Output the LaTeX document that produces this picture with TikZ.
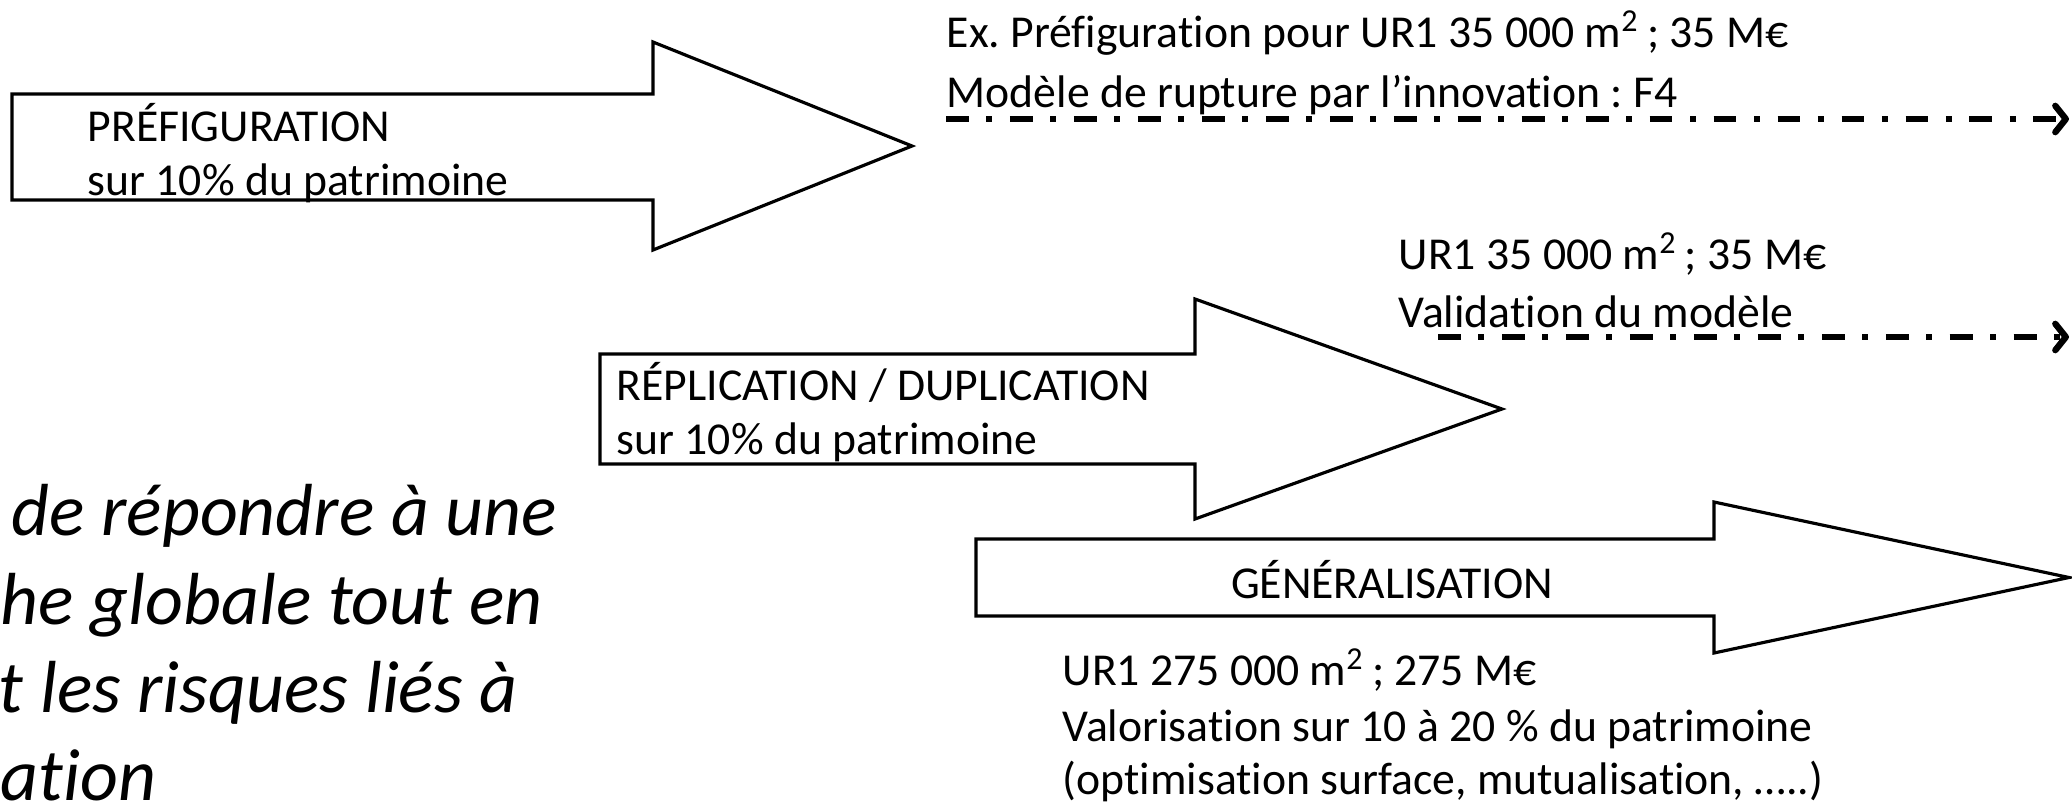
\documentclass[tikz,border=0pt]{standalone}
\usepackage{fontspec}
\setmainfont[Ligatures={NoCommon}]{Carlito}
\usetikzlibrary{arrows.meta}
\frenchspacing

\tikzset{
  bigarrow/.style={draw=black, line width=0.9pt, line join=miter},
  txt/.style={font=\fontsize{13}{15}\selectfont, inner sep=0pt, anchor=base west},
  remark/.style={font=\fontsize{21}{25}\selectfont\itshape, inner sep=0pt, text depth=0pt, anchor=base west},
  dashdot/.style={line width=1.8pt, dash pattern=on 6.5pt off 5pt on 1.7pt off 5pt,
    -{Straight Barb[length=3pt,width=7.5pt,line width=1.8pt,round]}}
}

\begin{document}
\begin{tikzpicture}[x=1cm, y=-1cm]
  \useasboundingbox (0,0) rectangle (20.72,8.05);

  % the three block arrows: left, shaft top, shaft bottom, head x, head top, head bottom, tip x, tip y
  \foreach \xl/\yt/\yb/\xh/\yht/\yhb/\xt/\yc in {0.12/0.94/2.00/6.53/0.42/2.50/9.12/1.46,
      6.00/3.54/4.64/11.95/2.99/5.19/15.02/4.09,
      9.76/5.39/6.16/17.14/5.02/6.53/20.69/5.775}{
    \draw[bigarrow] (\xl,\yt) -- (\xh,\yt) -- (\xh,\yht) -- (\xt,\yc)
      -- (\xh,\yhb) -- (\xh,\yb) -- (\xl,\yb) -- cycle;
  }

  % labels in the arrows
  \node[txt] (pref) at (0.87,1.41) {PRÉFIGURATION};
  \node[txt] (pref2) at (0.87,1.95) {sur 10\% du patrimoine};
  \node[txt] (repl) at (6.16,4.00) {RÉPLICATION / DUPLICATION};
  \node[txt] (repl2) at (6.16,4.54) {sur 10\% du patrimoine};
  \node[txt, anchor=base] (gen) at (13.92,5.98) {GÉNÉRALISATION};

  % notes
  \node[txt] (ex1) at (9.46,0.47) {Ex. Préfiguration pour UR1 35 000 m\textsuperscript{2}\,; 35 M€};
  \node[txt] (ex2) at (9.46,1.07) {Modèle de rupture par l’innovation : F4};
  \node[txt] (val1) at (13.98,2.69) {UR1 35 000 m\textsuperscript{2}\,; 35 M€};
  \node[txt] (val2) at (13.98,3.27) {Validation du modèle};
  \node[txt] (gen1) at (10.62,6.85) {UR1 275 000 m\textsuperscript{2}\,; 275 M€};
  \node[txt] (gen2) at (10.62,7.41) {Valorisation sur 10 à 20 \% du patrimoine};
  \node[txt] (gen3) at (10.62,7.94) {(optimisation surface, mutualisation, …..)};

  % dash-dot timelines
  \coordinate (pfA) at (9.46,1.19);
  \coordinate (pfB) at (20.69,1.19);
  \coordinate (vaA) at (14.38,3.37);
  \coordinate (vaB) at (20.69,3.37);
  \draw[dashdot] (pfA) -- (pfB);
  \draw[dashdot] (vaA) -- (vaB);

  % cut text on the left
  \node[remark] (r1) at (0.11,5.35) {de répondre à une};
  \node[remark] (r2) at (0.00,6.24) {he globale tout en};
  \node[remark] (r3) at (-0.02,7.12) {t les risques liés à};
  \node[remark] (r4) at (0.00,8.00) {ation};
\end{tikzpicture}
\end{document}
